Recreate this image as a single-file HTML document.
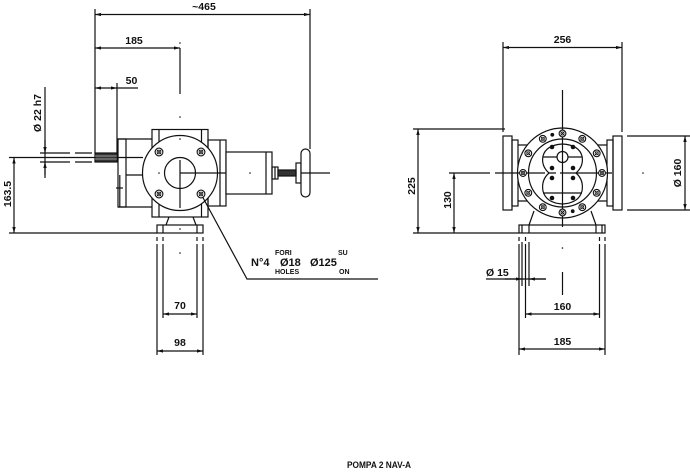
<!DOCTYPE html>
<html><head><meta charset="utf-8"><style>
html,body{margin:0;padding:0;background:#fff;}
svg{display:block;}
text{font-family:"Liberation Sans",sans-serif;font-weight:bold;fill:#111;}
</style></head><body>
<svg width="690" height="472" viewBox="0 0 690 472" xmlns="http://www.w3.org/2000/svg">
<defs>
<marker id="a" viewBox="0 0 10 10" refX="10" refY="5" markerWidth="6" markerHeight="6" markerUnits="userSpaceOnUse" orient="auto-start-reverse"><path d="M0,2.2 L10,5 L0,7.8 z" fill="#111"/></marker>
<g id="bh"><circle r="3.9" fill="#fff" stroke="#111" stroke-width="1.1"/><circle r="1.9" fill="none" stroke="#111" stroke-width="0.8"/><path d="M-2.2,-2.2 L2.2,2.2 M-2.2,2.2 L2.2,-2.2" stroke="#111" stroke-width="0.7"/></g>
<g id="bh2"><circle r="3.4" fill="#fff" stroke="#111" stroke-width="1.1"/><circle r="1.6" fill="none" stroke="#111" stroke-width="0.7"/><path d="M-2,-2 L2,2 M-2,2 L2,-2" stroke="#111" stroke-width="0.6"/></g>
</defs>
<g stroke="#111" stroke-width="1.2" fill="none">
<!-- ========== LEFT VIEW ========== -->
<line x1="95" y1="9" x2="95" y2="153"/>
<line x1="310" y1="9" x2="310" y2="149"/>
<line x1="95" y1="14.5" x2="310" y2="14.5" marker-start="url(#a)" marker-end="url(#a)"/>
<line x1="95" y1="48" x2="180" y2="48" marker-start="url(#a)" marker-end="url(#a)"/>
<line x1="180" y1="48" x2="180" y2="94"/>
<line x1="95" y1="88" x2="117" y2="88" marker-start="url(#a)" marker-end="url(#a)"/>
<line x1="117" y1="88" x2="138" y2="88"/>
<line x1="117" y1="83" x2="117" y2="153"/>
<line x1="45" y1="87" x2="45" y2="178"/>
<line x1="45" y1="140" x2="45" y2="153" marker-end="url(#a)"/>
<line x1="45" y1="175" x2="45" y2="162" marker-end="url(#a)"/>
<path d="M40,153 H70 M75,153 H92 M40,162 H70 M75,162 H92"/>
<line x1="9" y1="157.5" x2="95" y2="157.5"/>
<line x1="9" y1="233" x2="157" y2="233"/>
<line x1="14" y1="157.5" x2="14" y2="233" marker-start="url(#a)" marker-end="url(#a)"/>
<!-- shaft -->
<rect x="95" y="153" width="22" height="9" fill="#333"/>
<path d="M95,156 H117 M95,159 H117" stroke="#fff" stroke-width="0.6"/>
<line x1="117" y1="157.5" x2="143" y2="157.5"/>
<!-- gearbox housing -->
<path d="M118,139 H152 M118,207 H152"/>
<rect x="118" y="139" width="8" height="68"/>
<line x1="119.8" y1="175" x2="119.8" y2="207"/>
<line x1="126" y1="175" x2="143" y2="175"/>
<line x1="116" y1="188" x2="123" y2="188"/>
<rect x="152" y="129.5" width="56" height="87.5"/>
<path d="M159,129.5 V217 M201.5,129.5 V217"/>
<rect x="208" y="140" width="18" height="66"/>
<line x1="220" y1="140" x2="220" y2="206"/>
<circle cx="180" cy="173" r="37.5" fill="#fff"/>
<circle cx="180" cy="173" r="15.5"/>
<line x1="180" y1="160" x2="180" y2="208"/>
<line x1="180" y1="173" x2="233" y2="173"/>
<path d="M226,162.5 A10.5,10.5 0 0 1 226,183.5"/>
<rect x="226" y="152" width="46" height="42" fill="#fff"/>
<line x1="266" y1="152" x2="266" y2="194"/>
<rect x="272" y="167" width="6" height="12"/>
<line x1="275" y1="167" x2="275" y2="179"/>
<rect x="278" y="170" width="18" height="6" fill="#333"/>
<rect x="296" y="163" width="5" height="20"/>
<rect x="301" y="149" width="9" height="48" rx="4.5" fill="#fff"/>
<line x1="301" y1="173" x2="330" y2="173"/>
<path d="M169,217 L166,225 M193,217 L196,225"/>
<rect x="157" y="225" width="46" height="8"/>
<path d="M163,225 V233 M197,225 V233"/>
<path d="M157,237 V241 M157,244 V355 M203,237 V241 M203,244 V355"/>
<path d="M163,237 V241 M163,244 V318 M197,237 V241 M197,244 V318"/>
<line x1="163" y1="314" x2="197" y2="314" marker-start="url(#a)" marker-end="url(#a)"/>
<line x1="157" y1="351" x2="203" y2="351" marker-start="url(#a)" marker-end="url(#a)"/>
<polyline points="201,194 247,279 378,279"/>

<!-- ========== RIGHT VIEW ========== -->
<line x1="503" y1="42" x2="503" y2="132"/>
<line x1="622" y1="42" x2="622" y2="132"/>
<line x1="503" y1="47.5" x2="622" y2="47.5" marker-start="url(#a)" marker-end="url(#a)"/>
<line x1="413" y1="129" x2="505" y2="129"/>
<line x1="413" y1="233" x2="519" y2="233"/>
<line x1="418" y1="129" x2="418" y2="233" marker-start="url(#a)" marker-end="url(#a)"/>
<line x1="449" y1="173" x2="490" y2="173"/>
<line x1="454" y1="173" x2="454" y2="233" marker-start="url(#a)" marker-end="url(#a)"/>
<line x1="627" y1="136" x2="690" y2="136"/>
<line x1="627" y1="210" x2="690" y2="210"/>
<line x1="685" y1="136" x2="685" y2="210" marker-start="url(#a)" marker-end="url(#a)"/>
<rect x="503" y="136" width="9" height="74"/>
<rect x="512" y="140" width="6" height="66"/>
<rect x="613" y="136" width="9" height="74"/>
<rect x="607" y="140" width="6" height="66"/>
<path d="M518,145 H530 M518,201 H530 M595,145 H607 M595,201 H607"/>
<path d="M534,211 L529,225 M591,211 L596,225"/>
<rect x="519" y="225" width="86" height="8"/>
<path d="M522,225 V233 M529,225 V233 M596,225 V233 M602,225 V233"/>
<circle cx="562.5" cy="173" r="45" fill="#fff"/>
<circle cx="562.5" cy="173" r="34"/>
<path d="M549,173 Q541,166 543,156 Q546,145 562.5,144 Q579,145 582,156 Q584,166 576,173 Q584,180 582,191 Q579,203 562.5,204 Q546,203 543,191 Q541,180 549,173 Z"/>
<circle cx="562.5" cy="157" r="5.5"/>
<path d="M543,157 H557 M568,157 H582 M543,193 H582"/>
<line x1="562.5" y1="90" x2="562.5" y2="227"/>
<path d="M495,173 H545 M549,173 H556 M560,173 H612"/>
<path d="M519,237 V241 M519,244 V355 M605,237 V241 M605,244 V355"/>
<path d="M525.5,237 V241 M525.5,244 V318 M599.5,237 V241 M599.5,244 V318"/>
<path d="M522,242 V286 M529,242 V286"/>
<line x1="562.5" y1="272" x2="562.5" y2="295"/>
<line x1="486" y1="279" x2="546" y2="279"/>
<line x1="505" y1="279" x2="522" y2="279" marker-end="url(#a)"/>
<line x1="546" y1="279" x2="529" y2="279" marker-end="url(#a)"/>
<line x1="525.5" y1="314" x2="599.5" y2="314" marker-start="url(#a)" marker-end="url(#a)"/>
<line x1="519" y1="349" x2="605" y2="349" marker-start="url(#a)" marker-end="url(#a)"/>
</g>

<use href="#bh" x="159" y="152"/>
<use href="#bh" x="201" y="152"/>
<use href="#bh" x="159" y="194"/>
<use href="#bh" x="201" y="194"/>
<use href="#bh2" x="602" y="173"/>
<use href="#bh2" x="596.7" y="153.3"/>
<use href="#bh2" x="582.3" y="138.8"/>
<use href="#bh2" x="562.5" y="133.5"/>
<use href="#bh2" x="542.8" y="138.8"/>
<use href="#bh2" x="528.3" y="153.3"/>
<use href="#bh2" x="523" y="173"/>
<use href="#bh2" x="528.3" y="192.8"/>
<use href="#bh2" x="542.8" y="207.2"/>
<use href="#bh2" x="562.5" y="212.5"/>
<use href="#bh2" x="582.3" y="207.2"/>
<use href="#bh2" x="596.7" y="192.8"/>
<g fill="#111">
<circle cx="552.3" cy="134.8" r="1.9"/>
<circle cx="572.7" cy="211.2" r="1.9"/>
<circle cx="552" cy="147" r="2.3"/><circle cx="573" cy="147" r="2.3"/>
<circle cx="552" cy="168" r="2.3"/><circle cx="573" cy="168" r="2.3"/>
<circle cx="552" cy="178" r="2.3"/><circle cx="573" cy="178" r="2.3"/>
<circle cx="552" cy="198" r="2.3"/><circle cx="573" cy="198" r="2.3"/>
<circle cx="180" cy="43" r="0.8"/><circle cx="180" cy="117" r="0.8"/>
<circle cx="180" cy="139" r="0.8"/><circle cx="159" cy="173" r="0.8"/>
<circle cx="250" cy="173" r="0.8"/><circle cx="180" cy="229" r="0.8"/>
<circle cx="180" cy="253" r="0.8"/>
<circle cx="643" cy="173" r="0.8"/><circle cx="562.5" cy="248" r="0.8"/>
</g>

<g font-size="10.5">
<text x="204" y="10" text-anchor="middle">~465</text>
<text x="134" y="44" text-anchor="middle">185</text>
<text x="131.5" y="84" text-anchor="middle">50</text>
<text transform="translate(41,113) rotate(-90)" text-anchor="middle">Ø 22  h7</text>
<text transform="translate(11,194) rotate(-90)" text-anchor="middle">163.5</text>
<text x="180" y="309" text-anchor="middle">70</text>
<text x="180" y="346" text-anchor="middle">98</text>
<text x="251" y="266" font-size="11">N°4</text>
<text x="280" y="266" font-size="11">Ø18</text>
<text x="310" y="266" font-size="11">Ø125</text>
<text x="562.5" y="43" text-anchor="middle">256</text>
<text transform="translate(415,186) rotate(-90)" text-anchor="middle">225</text>
<text transform="translate(451,200) rotate(-90)" text-anchor="middle">130</text>
<text transform="translate(681,173) rotate(-90)" text-anchor="middle">Ø 160</text>
<text x="486" y="276">Ø 15</text>
<text x="562.5" y="310" text-anchor="middle">160</text>
<text x="562.5" y="345" text-anchor="middle">185</text>
</g>
<g font-size="7">
<text x="275" y="255">FORI</text>
<text x="275" y="274">HOLES</text>
<text x="338" y="255">SU</text>
<text x="339" y="274">ON</text>
</g>
<text x="347" y="468" font-size="9.5" textLength="64" lengthAdjust="spacingAndGlyphs">POMPA 2 NAV-A</text>
</svg>
</body></html>
